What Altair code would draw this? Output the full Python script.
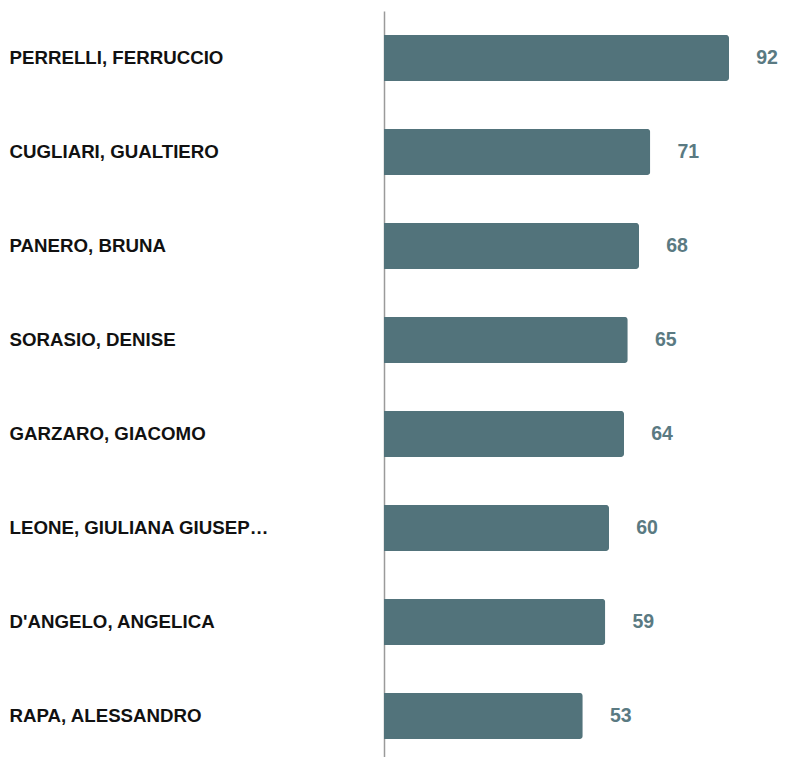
import altair as alt
import pandas as pd

names = [
    "PERRELLI, FERRUCCIO",
    "CUGLIARI, GUALTIERO",
    "PANERO, BRUNA",
    "SORASIO, DENISE",
    "GARZARO, GIACOMO",
    "LEONE, GIULIANA GIUSEPPINA",
    "D'ANGELO, ANGELICA",
    "RAPA, ALESSANDRO",
]
values = [92, 71, 68, 65, 64, 60, 59, 53]

df = pd.DataFrame({"name": names, "value": values})

y = alt.Y(
    "name:N",
    sort=names,
    title=None,
    scale=alt.Scale(paddingInner=0.51, paddingOuter=0.255),
    axis=alt.Axis(
        ticks=False,
        grid=False,
        labelAlign="left",
        labelPadding=375,
        labelLimit=262,
        labelFont="Liberation Sans",
        labelFontWeight="bold",
        labelFontSize=18.7,
        labelColor="#111111",
        domainColor="#9a9a9a",
        domainWidth=1.5,
    ),
)
x = alt.X(
    "value:Q",
    title=None,
    scale=alt.Scale(domain=[0, 100]),
    axis=None,
)

bars = alt.Chart(df).mark_bar(color="#52737b", cornerRadiusEnd=3).encode(x=x, y=y)
labels = alt.Chart(df).mark_text(
    align="center",
    baseline="middle",
    dx=38,
    font="Liberation Sans",
    fontWeight="bold",
    fontSize=19.5,
    color="#5a7a82",
).encode(x=x, y=y, text="value:Q")

chart = (
    alt.layer(bars, labels)
    .properties(
        width=375,
        height=752,
        background="white",
        padding={"left": 1, "top": 3, "right": 0, "bottom": 0},
    )
    .configure_view(stroke="transparent", strokeWidth=0)
)

chart.save("out.html", embed_options={"renderer": "svg", "actions": False})
